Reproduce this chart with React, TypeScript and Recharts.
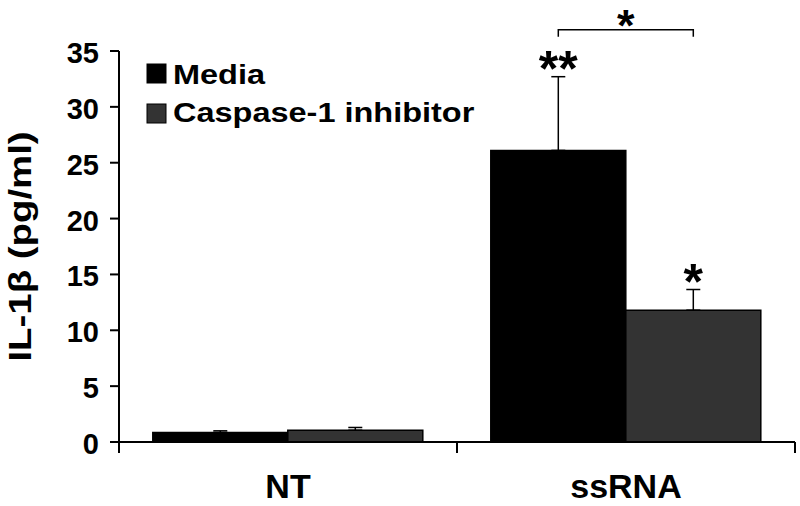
import { BarChart, Bar, XAxis, YAxis, ErrorBar, LabelList } from 'recharts'

const categories = ['NT', 'ssRNA']
const mediaValues = [0.85, 26.1]
const mediaErrors = [0.15, 6.6]
const inhibitorValues = [1.05, 11.8]
const inhibitorErrors = [0.25, 1.85]
const mediaStars = ['', '**']
const inhibitorStars = ['', '*']
const bracketIndex = 1
const bracketValue = 36.9
const bracketStar = '*'
const yTicks = [0, 5, 10, 15, 20, 25, 30, 35]
const seriesNames = ['Media', 'Caspase-1 inhibitor']
const seriesColors = ['#000000', '#333333']

const FONT = '"Liberation Sans", Arial, Helvetica, sans-serif'

const data = categories.map((name, i) => ({
  name,
  media: mediaValues[i],
  mediaErr: [0, mediaErrors[i]],
  inhibitor: inhibitorValues[i],
  inhibitorErr: [0, inhibitorErrors[i]],
}))

function starLabel(stars: string[], errors: number[], withBracket: boolean) {
  return (props: any) => {
    const { x, y, width, height, value, index } = props
    const ppu = Number(height) / Number(value)
    const cx = Number(x) + Number(width) / 2
    const errTop = Number(y) - errors[index] * ppu
    const star = stars[index]
    const base = Number(y) + Number(height)
    const showBracket = withBracket && index === bracketIndex
    const by = base - bracketValue * ppu
    const x2 = cx + Number(width)
    return (
      <g>
        {star ? (
          <text x={cx} y={errTop + 9} textAnchor="middle" fontSize={50} fontWeight="bold" fontFamily={FONT} fill="#000">
            {star}
          </text>
        ) : null}
        {showBracket ? (
          <g>
            <path d={`M${cx},${by + 7} V${by} H${x2} V${by + 7}`} fill="none" stroke="#000" strokeWidth={1.5} />
            <text x={(cx + x2) / 2} y={by + 11} textAnchor="middle" fontSize={45} fontWeight="bold" fontFamily={FONT} fill="#000">
              {bracketStar}
            </text>
          </g>
        ) : null}
      </g>
    )
  }
}

function XTick(props: any) {
  const { x, y, payload } = props
  const half = payload.offset ?? 0
  return (
    <g>
      <line x1={x - half} y1={y} x2={x - half} y2={y + 11} stroke="#000" strokeWidth={2} />
      <line x1={x + half} y1={y} x2={x + half} y2={y + 11} stroke="#000" strokeWidth={2} />
      <text x={x} y={y + 56} textAnchor="middle" fontSize={34} fontWeight="bold" fontFamily={FONT} fill="#000">
        {payload.value}
      </text>
    </g>
  )
}

function YTick(props: any) {
  const { x, y, payload } = props
  return (
    <text x={x} y={y + 12} textAnchor="end" fontSize={29} fontWeight="bold" fontFamily={FONT} fill="#000">
      {payload.value}
    </text>
  )
}

function YLabel(props: any) {
  const vb = props.viewBox || { y: 51, height: 391 }
  const cy = vb.y + vb.height / 2
  return (
    <text
      transform={`translate(20, ${cy}) rotate(-90) scale(1.2, 1)`}
      x={0}
      y={0}
      dy={11}
      textAnchor="middle"
      fontSize={32}
      fontWeight="bold"
      fontFamily={FONT}
      fill="#000"
    >
      IL-1β (pg/ml)
    </text>
  )
}

export default function App() {
  return (
    <div style={{ position: 'absolute', left: 0, top: 0, width: 800, height: 506, background: '#fff' }}>
      <BarChart
        width={800}
        height={506}
        data={data}
        margin={{ top: 51, right: 5, bottom: 0, left: 0 }}
        barCategoryGap="10%"
        barGap={0}
      >
        <XAxis
          dataKey="name"
          height={64}
          tickLine={false}
          tickSize={0}
          tickMargin={0}
          axisLine={{ stroke: '#000', strokeWidth: 2 }}
          tick={<XTick />}
        />
        <YAxis
          width={119}
          domain={[0, 35]}
          ticks={yTicks}
          interval={0}
          tickSize={9}
          tickMargin={11}
          axisLine={{ stroke: '#000', strokeWidth: 2 }}
          tickLine={{ stroke: '#000', strokeWidth: 2 }}
          tick={<YTick />}
          label={{ content: (p: any) => <YLabel {...p} /> }}
        />
        <Bar dataKey="media" fill={seriesColors[0]} stroke="#000" strokeWidth={1.5} isAnimationActive={false}>
          <ErrorBar dataKey="mediaErr" width={7} stroke="#000" strokeWidth={1.5} direction="y" isAnimationActive={false} />
          <LabelList dataKey="media" content={starLabel(mediaStars, mediaErrors, true)} />
        </Bar>
        <Bar dataKey="inhibitor" fill={seriesColors[1]} stroke="#000" strokeWidth={1.5} isAnimationActive={false}>
          <ErrorBar dataKey="inhibitorErr" width={7} stroke="#000" strokeWidth={1.5} direction="y" isAnimationActive={false} />
          <LabelList dataKey="inhibitor" content={starLabel(inhibitorStars, inhibitorErrors, false)} />
        </Bar>
      </BarChart>
      <svg width={800} height={506} style={{ position: 'absolute', left: 0, top: 0, pointerEvents: 'none' }}>
        {seriesNames.map((name, i) => (
          <g key={name}>
            <rect x={147} y={64 + i * 40} width={19} height={19} fill={seriesColors[i]} stroke="#000" strokeWidth={1} />
            <text
              transform={`translate(173, ${84 + i * 38}) scale(1.16, 1)`}
              fontSize={28}
              fontWeight="bold"
              fontFamily={FONT}
              fill="#000"
            >
              {name}
            </text>
          </g>
        ))}
      </svg>
    </div>
  )
}
